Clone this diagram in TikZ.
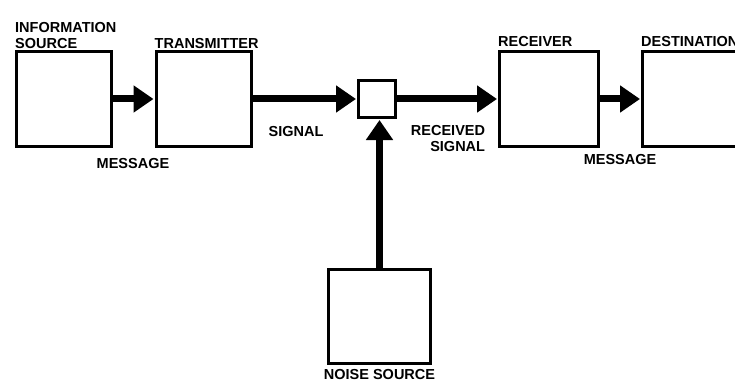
\documentclass[tikz,border=0pt]{standalone}
\usepackage{fontspec}
\setmainfont{Liberation Sans}
\usetikzlibrary{positioning,arrows.meta}

\begin{document}
\begin{tikzpicture}[x=1pt, y=1pt, node distance=2pt,
  font=\fontsize{14.5}{16}\selectfont\bfseries,
  blk/.style={draw, line width=3pt, minimum width=95pt, minimum height=95pt, inner sep=0pt},
  mixbox/.style={blk, minimum width=37pt, minimum height=37pt},
  lbl/.style={inner sep=1pt, align=left},
  flow/.style={line width=7pt, -{Triangle[length=20pt, width=26pt]}, shorten >=1pt}]
\useasboundingbox (0,0) rectangle (735,-385);
% boxes
\node[blk] (src) at (64,-99) {};
\node[blk] (tx) at (203.5,-99) {};
\node[mixbox] (mix) at (377,-99) {};
\node[blk, minimum width=99pt] (rx) at (549,-99) {};
\node[blk] (dst) at (690,-99) {};
\node[blk, minimum width=102pt, minimum height=94pt] (noise) at (379.5,-316.5) {};
% labels
\node[lbl, above right=0pt and -1pt of src.north west] (srclab) {INFORMATION\\SOURCE};
\node[lbl, above right=0pt and -1pt of tx.north west] (txlab) {TRANSMITTER};
\node[lbl, above right=2pt and -1pt of rx.north west] (rxlab) {RECEIVER};
\node[lbl, above right=2pt and -1pt of dst.north west] (dstlab) {DESTINATION};
\node[lbl] (msg1) at (133,-164) {MESSAGE};
\node[lbl] (sig) at (296,-132) {SIGNAL};
\node[lbl, align=right] (rsig) at (448,-139) {RECEIVED\\SIGNAL};
\node[lbl] (msg2) at (620,-160) {MESSAGE};
\node[lbl, below=3pt of noise] (noiselab) {NOISE SOURCE};
% connectors
\draw[flow] (src.east) -- (tx.west);
\draw[flow] (tx.east) -- (mix.west);
\draw[flow] (mix.east) -- (rx.west);
\draw[flow] (rx.east) -- (dst.west);
\draw[flow] (noise.north) -- (noise.north |- mix.south);
\end{tikzpicture}
\end{document}
